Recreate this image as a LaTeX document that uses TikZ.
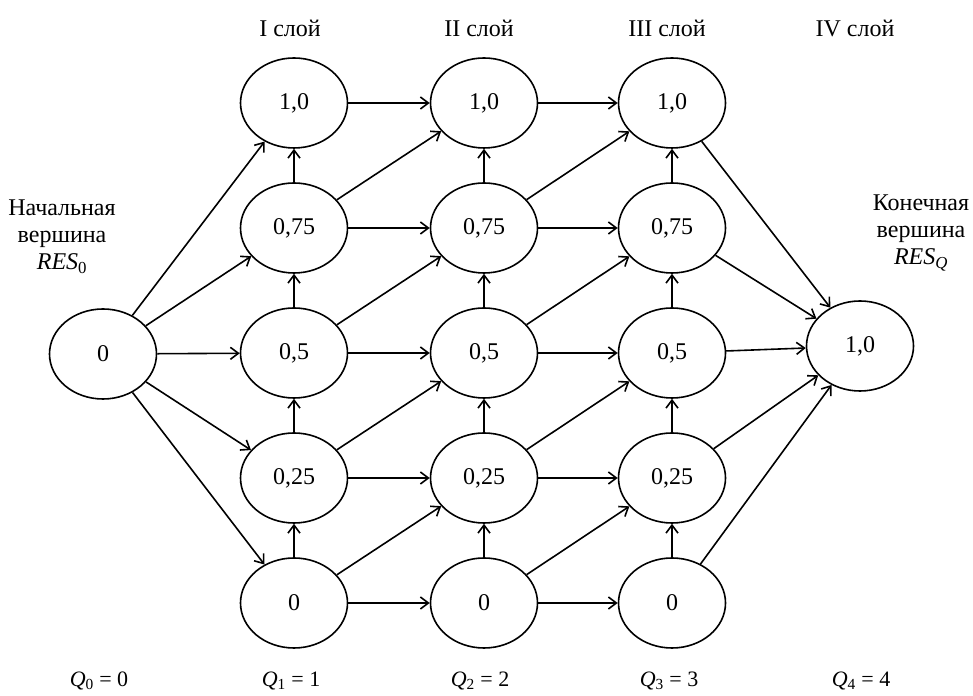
\documentclass[tikz,border=0pt]{standalone}
\usepackage{fontspec}
\setmainfont{Liberation Serif}
\usepackage{tikz}
\usetikzlibrary{shapes.geometric, arrows.meta}

\begin{document}
\begin{tikzpicture}[x=1pt, y=1pt, node distance={125pt}, line width=1.6pt,
    >={Straight Barb[length=8pt, width=12pt]},
    main/.style={draw, ellipse, minimum width=107pt, minimum height=90pt, inner sep=0pt, font=\fontsize{24}{28}\selectfont},
    lbl/.style={font=\fontsize{24}{27}\selectfont, align=center}]
    \useasboundingbox (0,0) rectangle (973,695);

    \node[main] (0) at (103,341) {0};

    \node[main] (1) at (294,92) {0};
    \node[main] (2) [above of=1] {0,25};
    \node[main] (3) [above of=2] {0,5};
    \node[main] (4) [above of=3] {0,75};
    \node[main] (5) [above of=4] {1,0};

    \node[main] (6) at (484,92) {0};
    \node[main] (7) [above of=6] {0,25};
    \node[main] (8) [above of=7] {0,5};
    \node[main] (9) [above of=8] {0,75};
    \node[main] (10) [above of=9] {1,0};

    \node[main] (11) at (672,92) {0};
    \node[main] (12) [above of=11] {0,25};
    \node[main] (13) [above of=12] {0,5};
    \node[main] (14) [above of=13] {0,75};
    \node[main] (15) [above of=14] {1,0};

    \node[main] (16) at (860,349) {1,0};

    \node[lbl] (17) at (290,667) {I слой};
    \node[lbl] (18) at (479,667) {II слой};
    \node[lbl] (19) at (667,667) {III слой};
    \node[lbl] (20) at (855,667) {IV слой};

    \node[lbl] (21) at (62,458) {Начальная\\вершина\\\textit{RES}\textsubscript{0}};
    \node[lbl] (22) at (921,462) {Конечная\\вершина\\\textit{RES}\textsubscript{\textit{Q}}};

    \node[lbl, font=\fontsize{22}{26}\selectfont] (23) at (99,14) {\textit{Q}\textsubscript{0} = 0};
    \node[lbl, font=\fontsize{22}{26}\selectfont] (24) at (291,14) {\textit{Q}\textsubscript{1} = 1};
    \node[lbl, font=\fontsize{22}{26}\selectfont] (25) at (480,14) {\textit{Q}\textsubscript{2} = 2};
    \node[lbl, font=\fontsize{22}{26}\selectfont] (26) at (669,14) {\textit{Q}\textsubscript{3} = 3};
    \node[lbl, font=\fontsize{22}{26}\selectfont] (27) at (861,14) {\textit{Q}\textsubscript{4} = 4};

    \draw[->] (0) -- (1);
    \draw[->] (0) -- (2);
    \draw[->] (0) -- (3);
    \draw[->] (0) -- (4);
    \draw[->] (0) -- (5);

    \draw[->] (1) -- (2);
    \draw[->] (2) -- (3);
    \draw[->] (3) -- (4);
    \draw[->] (4) -- (5);

    \draw[->] (1) -- (6);
    \draw[->] (2) -- (7);
    \draw[->] (3) -- (8);
    \draw[->] (4) -- (9);
    \draw[->] (5) -- (10);
    \draw[->] (1) -- (7);
    \draw[->] (2) -- (8);
    \draw[->] (3) -- (9);
    \draw[->] (4) -- (10);

    \draw[->] (6) -- (7);
    \draw[->] (7) -- (8);
    \draw[->] (8) -- (9);
    \draw[->] (9) -- (10);

    \draw[->] (6) -- (11);
    \draw[->] (7) -- (12);
    \draw[->] (8) -- (13);
    \draw[->] (9) -- (14);
    \draw[->] (10) -- (15);
    \draw[->] (6) -- (12);
    \draw[->] (7) -- (13);
    \draw[->] (8) -- (14);
    \draw[->] (9) -- (15);

    \draw[->] (11) -- (12);
    \draw[->] (12) -- (13);
    \draw[->] (13) -- (14);
    \draw[->] (14) -- (15);

    \draw[->] (11) -- (16);
    \draw[->] (12) -- (16);
    \draw[->] (13) -- (16);
    \draw[->] (14) -- (16);
    \draw[->] (15) -- (16);
\end{tikzpicture}
\end{document}
